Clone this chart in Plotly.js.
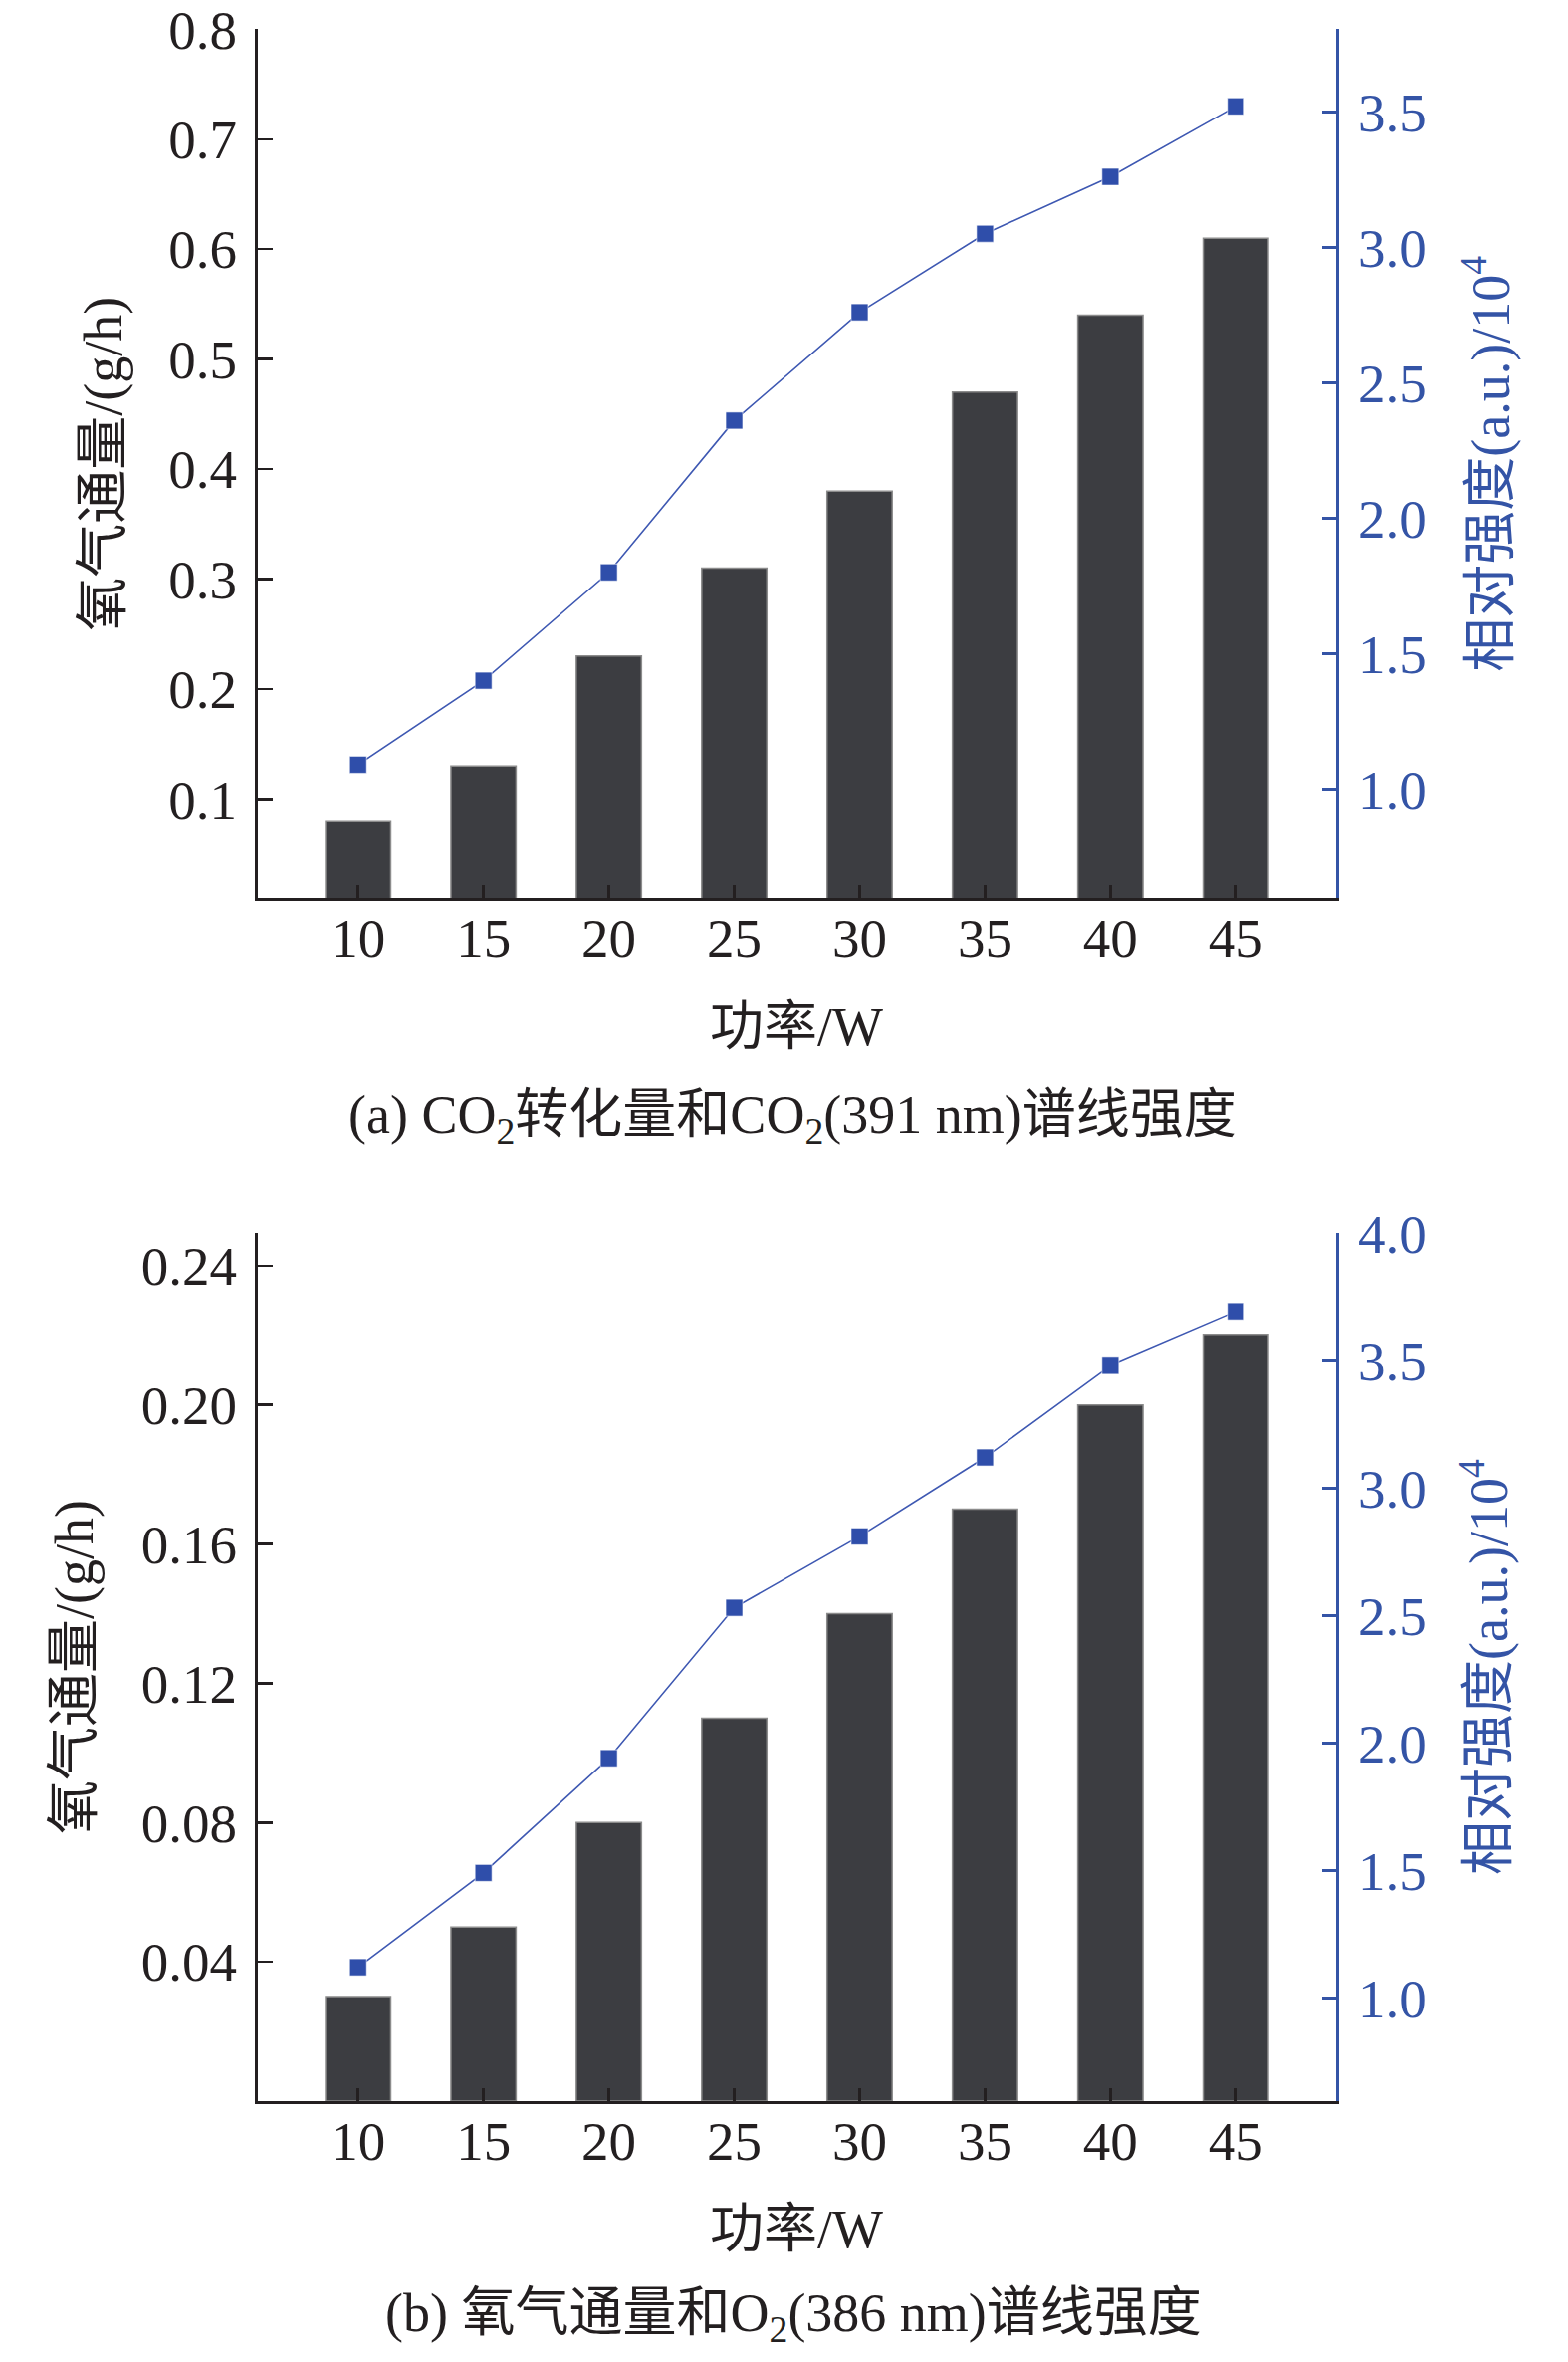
<!DOCTYPE html>
<html>
<head>
<meta charset="utf-8">
<script src="https://cdn.plot.ly/plotly-3.0.1.min.js"></script>
<style>
  html, body { margin: 0; padding: 0; background: #fff; }
  #chart { width: 1575px; height: 2372px; }
</style>
</head>
<body>
<div id="chart"></div>
<script>
// power levels (W)
var power = ["10", "15", "20", "25", "30", "35", "40", "45"];

// (a) CO2 conversion and CO2 (391 nm) line intensity
var flowA = [0.08, 0.13, 0.23, 0.31, 0.38, 0.47, 0.54, 0.61];
var intensityA = [1.09, 1.40, 1.80, 2.36, 2.76, 3.05, 3.26, 3.52];

// (b) oxygen flow and O2 (386 nm) line intensity
var flowB = [0.03, 0.05, 0.08, 0.11, 0.14, 0.17, 0.20, 0.22];
var intensityB = [1.12, 1.49, 1.94, 2.53, 2.81, 3.12, 3.48, 3.69];

var ticksLeftA = [0.1, 0.2, 0.3, 0.4, 0.5, 0.6, 0.7, 0.8];
var ticksRightA = [1.0, 1.5, 2.0, 2.5, 3.0, 3.5];
var ticksLeftB = [0.04, 0.08, 0.12, 0.16, 0.20, 0.24];
var ticksRightB = [1.0, 1.5, 2.0, 2.5, 3.0, 3.5, 4.0];

var W = 1575, H = 2372;
var black = "rgb(35,31,32)";
var blue = "rgb(52,84,166)";
var serif = "Liberation Serif, Times New Roman, Noto Sans CJK SC, serif";

function barTrace(y, xa, ya) {
    return {
        type: "bar", x: power, y: y, xaxis: xa, yaxis: ya,
        width: 0.52,
        marker: { color: "rgb(60,61,65)", line: { color: "rgb(140,140,140)", width: 1.5 } },
        showlegend: false, hoverinfo: "x+y"
    };
}

function lineTrace(y, xa, ya) {
    return {
        type: "scatter", mode: "lines+markers", x: power, y: y, xaxis: xa, yaxis: ya,
        line: { color: "rgb(62,88,178)", width: 1.6 },
        marker: { symbol: "square", size: 17, color: "rgb(47,78,170)",
                  line: { color: "rgba(255,255,255,0.6)", width: 1 } },
        showlegend: false, hoverinfo: "x+y"
    };
}

var data = [
    barTrace(flowA, "x", "y"),
    lineTrace(intensityA, "x", "y2"),
    barTrace(flowB, "x2", "y3"),
    lineTrace(intensityB, "x2", "y4")
];

// pixel box of each panel
var left = 259, right = 1342;
var topA = 29.3, botA = 902.3;
var topB = 1238, botB = 2110;

function px(x) { return x / W; }
function py(y) { return 1 - y / H; }

function xAxis(anchor) {
    return {
        domain: [px(left), px(right)], anchor: anchor,
        type: "category", range: [-0.8, 7.8],
        showline: true, linecolor: black, linewidth: 3,
        ticks: "inside", ticklen: 13, tickwidth: 2.5, tickcolor: black,
        ticklabelstandoff: -10, ticklabeloverflow: "allow",
        tickfont: { family: serif, size: 55, color: black },
        showgrid: false, zeroline: false, fixedrange: true
    };
}

function leftAxis(anchor, dom, range, vals, fmt) {
    return {
        domain: dom, anchor: anchor, range: range,
        tickvals: vals, tickformat: fmt,
        showline: true, linecolor: black, linewidth: 3,
        ticks: "inside", ticklen: 15, tickwidth: 2.5, tickcolor: black,
        ticklabelstandoff: 7, ticklabeloverflow: "allow",
        tickfont: { family: serif, size: 55, color: black },
        showgrid: false, zeroline: false, fixedrange: true
    };
}

function rightAxis(anchor, over, range, vals) {
    return {
        anchor: anchor, overlaying: over, side: "right", range: range,
        tickvals: vals, tickformat: ".1f",
        showline: true, linecolor: blue, linewidth: 3,
        ticks: "inside", ticklen: 14, tickwidth: 2.5, tickcolor: blue,
        ticklabelstandoff: 8, ticklabeloverflow: "allow",
        tickfont: { family: serif, size: 55, color: blue },
        showgrid: false, zeroline: false, fixedrange: true
    };
}

function note(text, x, y, size, color, angle) {
    return {
        text: text, xref: "paper", yref: "paper", x: px(x), y: py(y),
        xanchor: "center", yanchor: "middle", showarrow: false,
        textangle: angle || 0,
        font: { family: serif, size: size, color: color }
    };
}

var layout = {
    width: W, height: H,
    margin: { l: 0, r: 0, t: 0, b: 0 },
    paper_bgcolor: "#fff", plot_bgcolor: "rgba(0,0,0,0)",
    bargap: 0,
    xaxis: xAxis("y"),
    yaxis: leftAxis("x", [py(botA), py(topA)], [0.0094, 0.8001], ticksLeftA, ".1f"),
    yaxis2: rightAxis("x", "y", [0.596, 3.805], ticksRightA),
    xaxis2: xAxis("y3"),
    yaxis3: leftAxis("x2", [py(botB), py(topB)], [0.0, 0.2494], ticksLeftB, ".2f"),
    yaxis4: rightAxis("x2", "y3", [0.595, 4.001], ticksRightB),
    annotations: [
        note("氧气通量/(g/h)", 104, (topA + botA) / 2, 54, black, -90),
        note("相对强度(a.u.)/10<sup>4</sup>", 1494, (topA + botA) / 2, 54, blue, -90),
        note("功率/W", 800, 1031, 54, black),
        note("(a) CO<sub>2</sub>转化量和CO<sub>2</sub>(391 nm)谱线强度", 796, 1123, 54, black),
        note("氧气通量/(g/h)", 75, (topB + botB) / 2, 54, black, -90),
        note("相对强度(a.u.)/10<sup>4</sup>", 1491, (topB + botB) / 2, 54, blue, -90),
        note("功率/W", 800, 2239, 54, black),
        note("(b) 氧气通量和O<sub>2</sub>(386 nm)谱线强度", 797, 2326, 54, black)
    ]
};

Plotly.newPlot("chart", data, layout, { displayModeBar: false, staticPlot: true });
</script>
</body>
</html>
